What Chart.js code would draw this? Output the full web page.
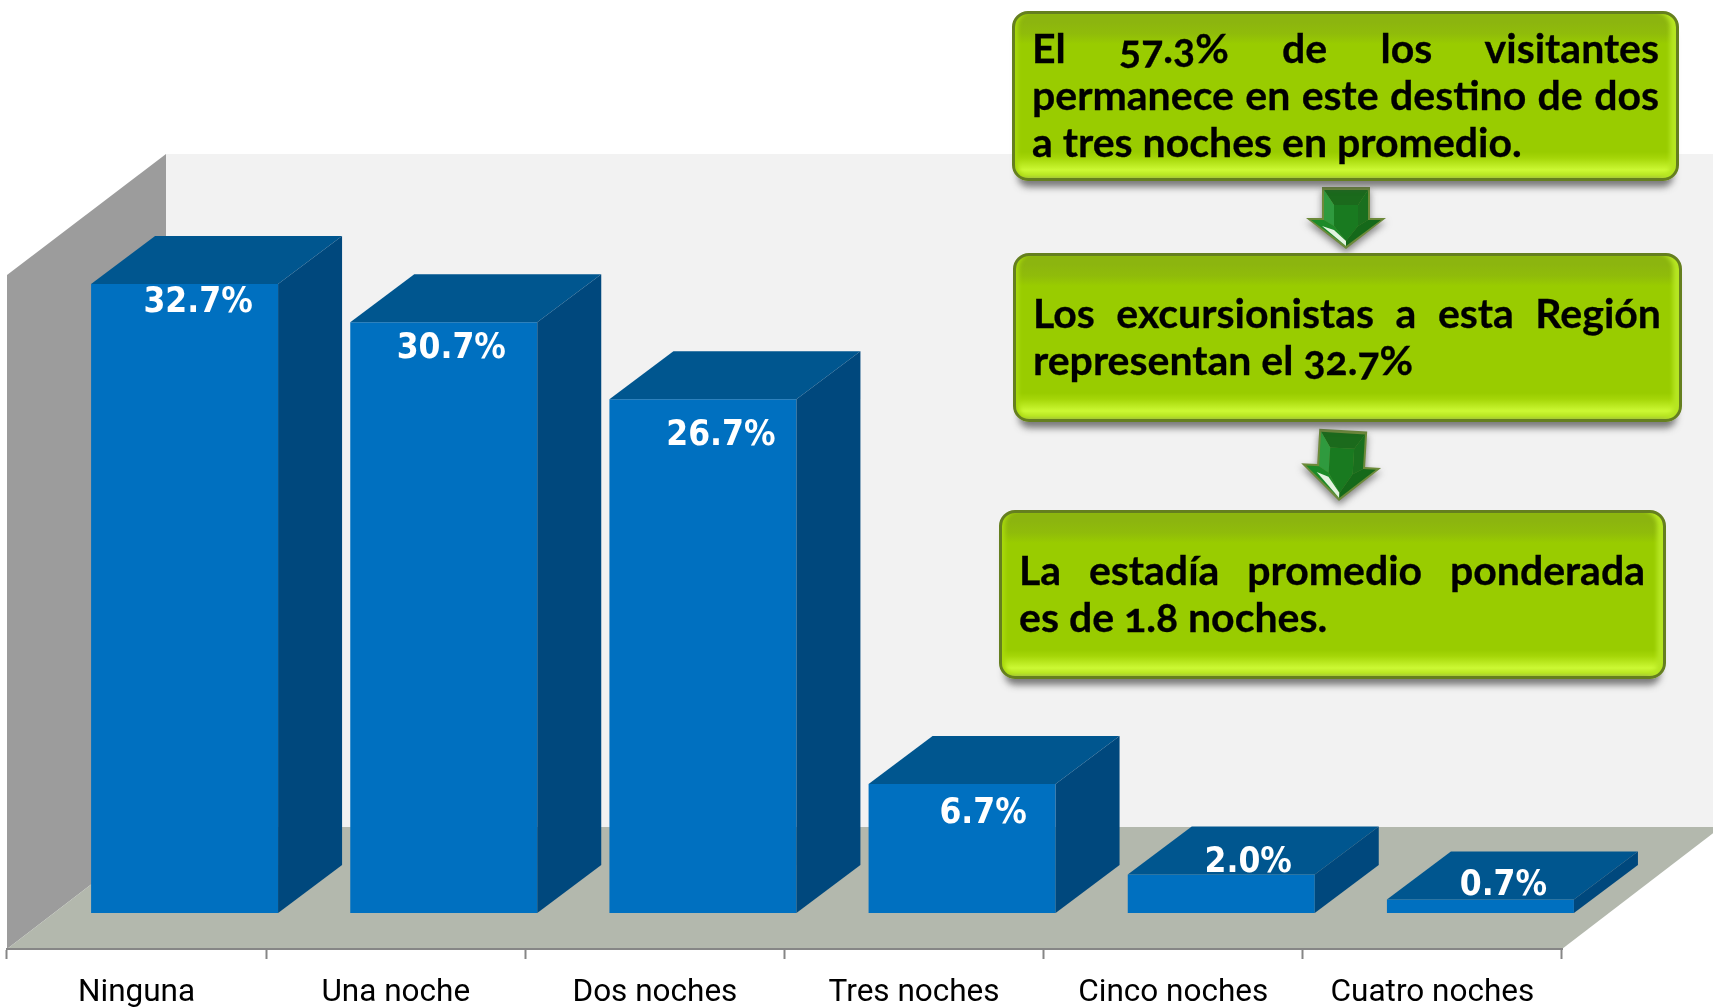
<!DOCTYPE html>
<html lang="es">
<head>
<meta charset="utf-8">
<title>Estadía</title>
<script src="https://cdn.jsdelivr.net/npm/chart.js@4"></script>
<style>
    html, body { margin: 0; padding: 0; background: #fff; overflow: hidden; }
    #wrap { position: relative; width: 1713px; height: 1007px; overflow: hidden; }
    canvas { position: absolute; left: 0; top: 0; }
    .callout {
        position: absolute;
        box-sizing: border-box;
        border: 3px solid #657f1f;
        border-radius: 16px;
        display: flex;
        flex-direction: column;
        justify-content: center;
        padding-bottom: 1px;
        font: 700 41px/46.7px Lato, sans-serif;
        font-feature-settings: "onum" 1;
        -webkit-text-stroke: 0.3px #000;
        color: #000;
        white-space: nowrap;
        background: linear-gradient(to bottom,
            #8cb50f 0, #8cb50f 8px, #90bc0a 20px, #99cc00 30px,
            #99cc00 calc(100% - 26px), #a5d608 calc(100% - 20px),
            #ccf934 calc(100% - 8px), #b8e622 calc(100% - 3px), #a8c83a 100%);
        box-shadow: 0 12px 7px -6px rgba(70, 70, 70, 0.7),
            inset -9px 0 4px -3px #b6e622, inset 7px 0 4px -4px #a8d80c;
    }
    .callout div { text-align: justify; }
    .callout div.just { text-align-last: justify; }
</style>
</head>
<body>
<div id="wrap">
    <canvas id="chart" width="1713" height="1007"></canvas>
</div>
<script>
const categories = ["Ninguna", "Una noche", "Dos noches", "Tres noches", "Cinco noches", "Cuatro noches"];
const percentValues = [32.7, 30.7, 26.7, 6.7, 2.0, 0.7];

const box1Lines = ["El 57.3% de los visitantes", "permanece en este destino de dos", "a tres noches en promedio."];
const box2Lines = ["Los excursionistas a esta Región", "representan el 32.7%"];
const box3Lines = ["La estadía promedio ponderada", "es de 1.8 noches."];

// depth of the fake 3d box and of the bars, in pixels
const WALL_DX = 159, WALL_DY = 122;
const BAR_DX = 64, BAR_DY = 48;
const BAR_SHIFT_X = 48;

// hand placed value labels, relative to the top centre of each bar front
const LABEL_OFFSET_X = [13.5, 7.5, 18, 21, 27, 23];
const LABEL_OFFSET_Y = [19, 27, 37, 30, -12, -14];

function fillPoly(ctx, color, pts) {
    ctx.fillStyle = color;
    ctx.beginPath();
    ctx.moveTo(pts[0][0], pts[0][1]);
    for (let i = 1; i < pts.length; i++) {
        ctx.lineTo(pts[i][0], pts[i][1]);
    }
    ctx.closePath();
    ctx.fill();
}

function drawArrow(ctx, tipX, tipY, height, angle) {
    const top = -height, neck = -height / 2;
    const outline = [[-24, top], [24, top], [24, neck], [40, neck], [0, 0], [-40, neck], [-24, neck]];
    ctx.save();
    ctx.translate(tipX, tipY);
    ctx.rotate(angle);

    ctx.save();
    ctx.shadowColor = "rgba(60,60,60,0.6)";
    ctx.shadowBlur = 7;
    ctx.shadowOffsetY = 4;
    fillPoly(ctx, "#6d8a3a", outline);
    ctx.restore();

    const inTop = top + 3;
    fillPoly(ctx, "#1b6a1c", [[-22, inTop], [22, inTop], [12, inTop + 15], [-12, inTop + 15]]);
    fillPoly(ctx, "#2f9a3e", [[-22, inTop], [-12, inTop + 15], [-12, neck + 8], [-22, neck + 2]]);
    fillPoly(ctx, "#1a6f1e", [[22, inTop], [12, inTop + 15], [12, neck + 8], [22, neck + 2]]);
    fillPoly(ctx, "#197a20", [[-12, inTop + 15], [12, inTop + 15], [12, neck + 8], [0, -8], [-12, neck + 8]]);
    fillPoly(ctx, "#1c8a28", [[-35, neck + 2], [-22, neck + 2], [-12, neck + 8], [0, -8], [0, -3]]);
    fillPoly(ctx, "#e4f3e0", [[-24, neck + 8], [-12, neck + 12], [0, -8], [0, -3]]);
    fillPoly(ctx, "#15691a", [[35, neck + 2], [22, neck + 2], [12, neck + 8], [0, -8], [0, -3]]);
    ctx.restore();
}

const box3dPlugin = {
    id: "box3d",
    // walls and floor go under the axis
    beforeDraw(chart) {
        const ctx = chart.ctx;
        const x = chart.scales.x;
        const y = chart.scales.y;
        const l = x.left, r = x.right, t = y.top, b = y.bottom;
        ctx.save();
        fillPoly(ctx, "#f2f2f2", [[l + WALL_DX, t - WALL_DY], [chart.width, t - WALL_DY], [chart.width, b - WALL_DY], [l + WALL_DX, b - WALL_DY]]);
        fillPoly(ctx, "#9c9c9c", [[l, t - 1], [l + WALL_DX, t - WALL_DY], [l + WALL_DX, b - WALL_DY], [l, b]]);
        fillPoly(ctx, "#b3b8ad", [[l, b], [r, b], [r + WALL_DX, b - WALL_DY], [l + WALL_DX, b - WALL_DY]]);
        ctx.restore();
    },
    // the bars stand inside the box, not on the front edge
    beforeDatasetDraw(chart) {
        chart.ctx.save();
        chart.ctx.translate(BAR_SHIFT_X, 0);
    },
    afterDatasetDraw(chart) {
        const ctx = chart.ctx;
        const bars = chart.getDatasetMeta(0).data;
        bars.forEach((bar, i) => {
            const left = bar.x - bar.width / 2;
            const right = bar.x + bar.width / 2;
            fillPoly(ctx, "#00568f", [[left, bar.y], [left + BAR_DX, bar.y - BAR_DY], [right + BAR_DX, bar.y - BAR_DY], [right, bar.y]]);
            fillPoly(ctx, "#00487d", [[right, bar.y], [right + BAR_DX, bar.y - BAR_DY], [right + BAR_DX, bar.base - BAR_DY], [right, bar.base]]);
        });
        ctx.fillStyle = "#fff";
        ctx.font = "bold 35px 'DejaVu Sans Condensed', 'DejaVu Sans'";
        ctx.textAlign = "center";
        ctx.textBaseline = "middle";
        bars.forEach((bar, i) => {
            ctx.fillText(percentValues[i].toFixed(1) + "%", bar.x + LABEL_OFFSET_X[i], bar.y + LABEL_OFFSET_Y[i]);
        });
        ctx.restore();
    },
    afterDraw(chart) {
        drawArrow(chart.ctx, 1346, 249, 62, 0);
        drawArrow(chart.ctx, 1339, 501, 71, 0.06);
    }
};

new Chart(document.getElementById("chart"), {
    type: "bar",
    data: {
        labels: categories,
        datasets: [{
            data: percentValues,
            backgroundColor: "#0070c0",
            borderWidth: 0,
            barPercentage: 0.7215,
            categoryPercentage: 1
        }]
    },
    plugins: [box3dPlugin],
    options: {
        responsive: false,
        animation: false,
        layout: { padding: { left: 7, right: 151, top: 276, bottom: 0 } },
        plugins: {
            legend: { display: false },
            title: { display: false },
            tooltip: { enabled: false }
        },
        scales: {
            x: {
                offset: true,
                afterFit(scale) { scale.height = 58; },
                border: { display: true, color: "#868686", width: 2 },
                grid: { offset: true, drawOnChartArea: false, color: "#868686", tickColor: "#868686", tickLength: 10, tickWidth: 2 },
                ticks: {
                    autoSkip: false,
                    maxRotation: 0,
                    padding: 15,
                    color: "#000",
                    font: { family: "Roboto", size: 31.5 }
                }
            },
            y: {
                display: false,
                min: -1.87,
                max: 33.11
            }
        }
    }
});

function addCallout(lines, left, top, width, height, padLeft, padRight) {
    const box = document.createElement("div");
    box.className = "callout";
    box.style.left = left + "px";
    box.style.top = top + "px";
    box.style.width = width + "px";
    box.style.height = height + "px";
    box.style.paddingLeft = padLeft + "px";
    box.style.paddingRight = padRight + "px";
    lines.forEach((line, i) => {
        const row = document.createElement("div");
        row.textContent = line;
        if (i < lines.length - 1) row.className = "just";
        box.appendChild(row);
    });
    document.getElementById("wrap").appendChild(box);
}

addCallout(box1Lines, 1012, 11, 667, 170, 17, 17);
addCallout(box2Lines, 1013, 253, 669, 169, 17, 18);
addCallout(box3Lines, 999, 510, 667, 169, 17, 18);
</script>
</body>
</html>
